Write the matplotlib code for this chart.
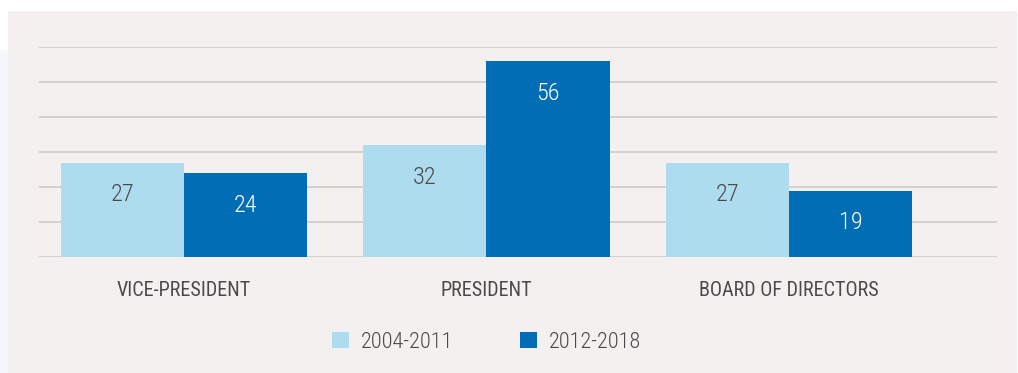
import matplotlib
matplotlib.use("Agg")
import matplotlib.pyplot as plt
from matplotlib.patches import Rectangle, Patch
import numpy as np

categories = ["VICE-PRESIDENT", "PRESIDENT", "BOARD OF DIRECTORS"]
series_names = ["2004-2011", "2012-2018"]
values_2004_2011 = [27, 32, 27]
values_2012_2018 = [24, 56, 19]

light = "#aedcef"
dark = "#006db5"
text_col = "#4a4a4a"
bg = "#f4f0ef"

plt.rcParams["font.family"] = ["Roboto Condensed", "Archivo Narrow", "DejaVu Sans"]

W, H = 1018, 373
fig = plt.figure(figsize=(W / 100, H / 100), dpi=100)
fig.patch.set_facecolor("white")
# faint strip on the left edge
fig.patches.append(Rectangle((0, 0), 8 / W, 1 - 50 / H, transform=fig.transFigure,
                             facecolor="#f4f7fc", edgecolor="none", zorder=-11))
# panel background
fig.patches.append(Rectangle((8 / W, 0), (1017 - 8) / W, 1 - 11 / H,
                             transform=fig.transFigure, facecolor=bg,
                             edgecolor="none", zorder=-10))

ax = fig.add_axes([39 / W, 116 / H, (997 - 39) / W, (326 - 116) / H])
ax.set_zorder(1)
ax.set_facecolor("none")
for s in ax.spines.values():
    s.set_visible(False)

x = np.arange(len(categories))
w = 0.407
b1 = ax.bar(x - w / 2, values_2004_2011, w, color=light, zorder=3)
b2 = ax.bar(x + w / 2, values_2012_2018, w, color=dark, zorder=3)

ax.set_ylim(0, 60)
ax.set_xlim(-0.479, 2.688)
ax.set_yticks(np.arange(0, 61, 10))
ax.yaxis.grid(True, color="#cfcbca", linewidth=1.2, zorder=0)
ax.set_axisbelow(True)
ax.tick_params(axis="y", left=False, labelleft=False)
ax.set_xticks(x)
ax.set_xticklabels(categories, fontsize=14.5, color=text_col)
ax.tick_params(axis="x", length=0, pad=17)

for bars, col in ((b1, text_col), (b2, "white")):
    for r in bars:
        ax.annotate(f"{int(r.get_height())}",
                    (r.get_x() + r.get_width() / 2, r.get_height()),
                    xytext=(0, -32), textcoords="offset pixels",
                    ha="center", va="center", fontsize=17.5, color=col,
                    fontweight="light", zorder=4)

handles = [Patch(facecolor=light, edgecolor="none"), Patch(facecolor=dark, edgecolor="none")]
fig.legend(handles, series_names, loc="center", bbox_to_anchor=(487 / W, 1 - 342 / H),
           ncol=2, frameon=False, prop={"size": 16, "weight": "light"},
           handlelength=0.75, handleheight=0.75,
           handletextpad=0.55, columnspacing=3.0, labelcolor=text_col)

fig.savefig("out.png", dpi=100, facecolor=fig.get_facecolor())
